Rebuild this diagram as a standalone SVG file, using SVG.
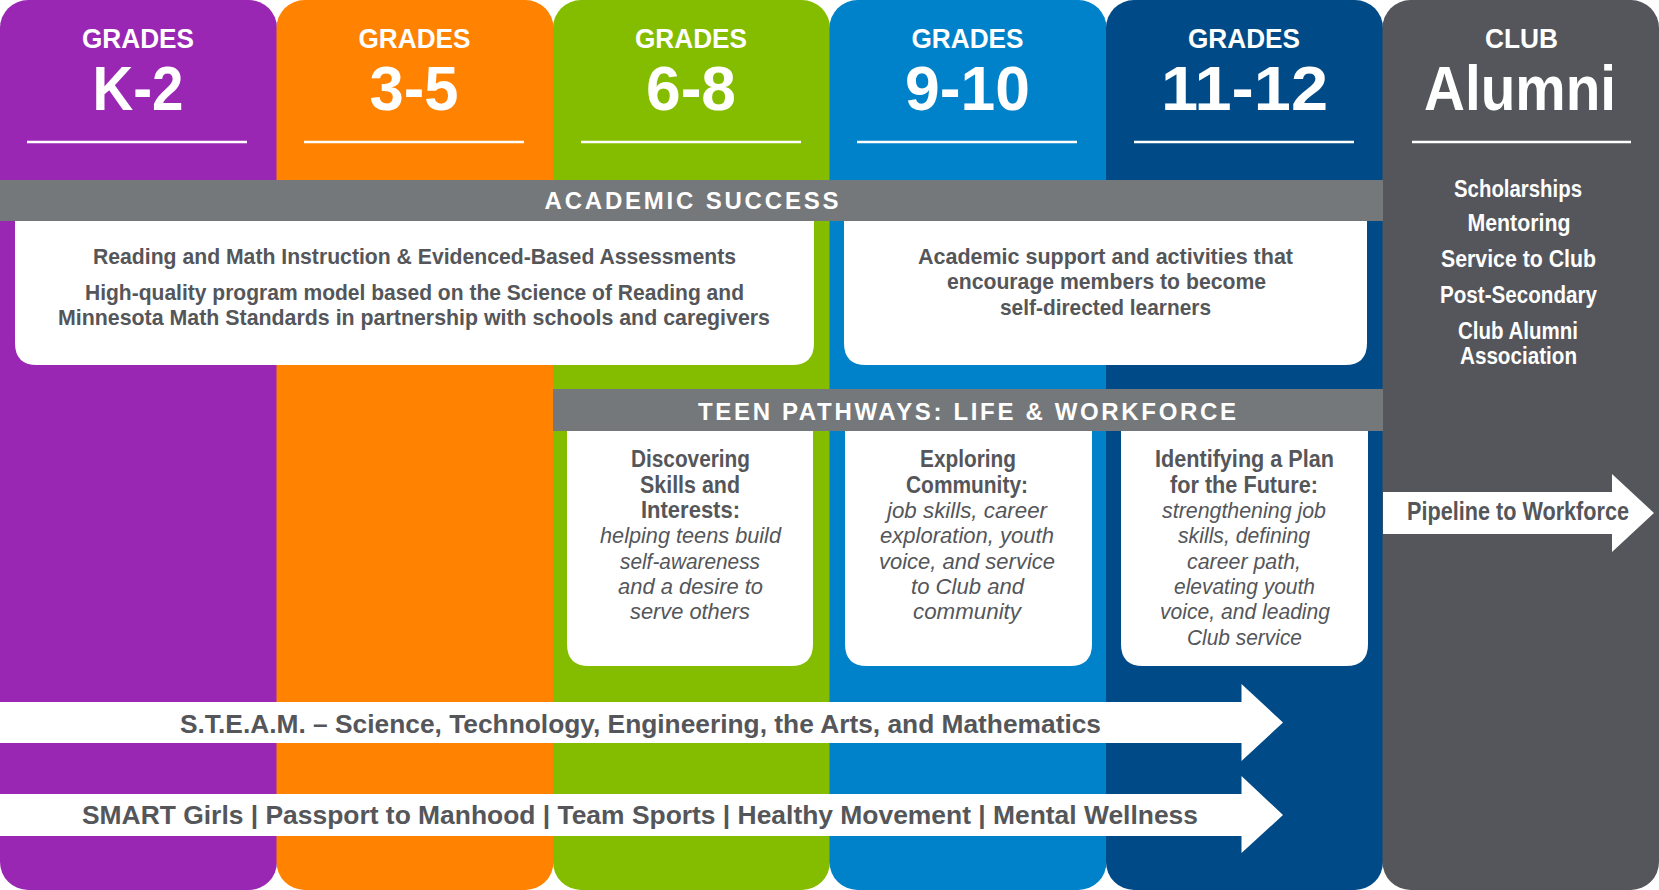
<svg xmlns="http://www.w3.org/2000/svg" width="1659" height="890" viewBox="0 0 1659 890">
<style>
text{font-family:"Liberation Sans Narrow","Liberation Sans",Arial,sans-serif;}
.hd{fill:#fff;font-weight:bold;font-size:27px;text-anchor:middle;}
.big{fill:#fff;font-weight:bold;font-size:63px;text-anchor:middle;}
.band{fill:#75787B;}
.bt{fill:#fff;font-weight:bold;font-size:24px;text-anchor:middle;}
.box{fill:#fff;}
.b{fill:#54565A;font-weight:bold;font-size:22px;text-anchor:middle;}
.bh{fill:#54565A;font-weight:bold;font-size:23px;text-anchor:middle;}
.it{fill:#54565A;font-style:italic;font-size:22px;text-anchor:middle;}
.al{fill:#fff;font-weight:bold;font-size:23px;text-anchor:middle;}
.rule{stroke:#fff;stroke-width:2.5;}
.arrow{fill:#fff;}
.at{fill:#54565A;font-weight:bold;font-size:25px;text-anchor:middle;}
</style>
<rect width="1659" height="890" fill="#fff"/>

<g id="col-k2">
<rect x="0" y="0" width="277" height="890" rx="28" fill="#9A27B4"/>
<text class="hd" x="138" y="48" textLength="112" lengthAdjust="spacingAndGlyphs">GRADES</text>
<text class="big" x="138" y="110" textLength="91" lengthAdjust="spacingAndGlyphs">K-2</text>
<line class="rule" x1="27" y1="142" x2="247" y2="142"/>
</g>
<g id="col-35">
<rect x="276.5" y="0" width="277" height="890" rx="28" fill="#FF8200"/>
<text class="hd" x="414.5" y="48" textLength="112" lengthAdjust="spacingAndGlyphs">GRADES</text>
<text class="big" x="414" y="110" textLength="89" lengthAdjust="spacingAndGlyphs">3-5</text>
<line class="rule" x1="304" y1="142" x2="524" y2="142"/>
</g>
<g id="col-68">
<rect x="553" y="0" width="277" height="890" rx="28" fill="#84BD00"/>
<text class="hd" x="691" y="48" textLength="112" lengthAdjust="spacingAndGlyphs">GRADES</text>
<text class="big" x="691" y="110" textLength="90" lengthAdjust="spacingAndGlyphs">6-8</text>
<line class="rule" x1="581" y1="142" x2="801" y2="142"/>
</g>
<g id="col-910">
<rect x="829.5" y="0" width="277" height="890" rx="28" fill="#0082CA"/>
<text class="hd" x="967.5" y="48" textLength="112" lengthAdjust="spacingAndGlyphs">GRADES</text>
<text class="big" x="967.5" y="110" textLength="125" lengthAdjust="spacingAndGlyphs">9-10</text>
<line class="rule" x1="857" y1="142" x2="1077" y2="142"/>
</g>
<g id="col-1112">
<rect x="1106" y="0" width="277" height="890" rx="28" fill="#004B87"/>
<text class="hd" x="1244" y="48" textLength="112" lengthAdjust="spacingAndGlyphs">GRADES</text>
<text class="big" x="1244.5" y="110" textLength="167" lengthAdjust="spacingAndGlyphs">11-12</text>
<line class="rule" x1="1134" y1="142" x2="1354" y2="142"/>
</g>
<g id="col-alumni">
<rect x="1382.5" y="0" width="276.5" height="890" rx="28" fill="#54565B"/>
<text class="hd" x="1521.5" y="48" textLength="73" lengthAdjust="spacingAndGlyphs">CLUB</text>
<text class="big" x="1520" y="110" textLength="192" lengthAdjust="spacingAndGlyphs">Alumni</text>
<line class="rule" x1="1412" y1="142" x2="1631" y2="142"/>
<text class="al" x="1518" y="197" textLength="128" lengthAdjust="spacingAndGlyphs">Scholarships</text>
<text class="al" x="1519" y="231" textLength="103" lengthAdjust="spacingAndGlyphs">Mentoring</text>
<text class="al" x="1518.5" y="267" textLength="155" lengthAdjust="spacingAndGlyphs">Service to Club</text>
<text class="al" x="1518.5" y="303" textLength="157" lengthAdjust="spacingAndGlyphs">Post-Secondary</text>
<text class="al" x="1518" y="339" textLength="120" lengthAdjust="spacingAndGlyphs">Club Alumni</text>
<text class="al" x="1518.5" y="364" textLength="117" lengthAdjust="spacingAndGlyphs">Association</text>
</g>

<g id="academic-success">
<rect class="band" x="0" y="180" width="1383" height="41"/>
<text class="bt" x="691.5" y="209" textLength="294" lengthAdjust="spacing">ACADEMIC SUCCESS</text>
</g>
<g id="academic-k8">
<path class="box" d="M15,221 H814 V343 Q814,365 792,365 H37 Q15,365 15,343 Z"/>
<text class="b" x="414.5" y="264" textLength="643" lengthAdjust="spacingAndGlyphs">Reading and Math Instruction &amp; Evidenced-Based Assessments</text>
<text class="b" x="414.5" y="300" textLength="659" lengthAdjust="spacingAndGlyphs">High-quality program model based on the Science of Reading and</text>
<text class="b" x="414" y="325" textLength="712" lengthAdjust="spacingAndGlyphs">Minnesota Math Standards in partnership with schools and caregivers</text>
</g>
<g id="academic-912">
<path class="box" d="M844,221 H1367 V343 Q1367,365 1345,365 H866 Q844,365 844,343 Z"/>
<text class="b" x="1105.5" y="264" textLength="375" lengthAdjust="spacingAndGlyphs">Academic support and activities that</text>
<text class="b" x="1106.5" y="289" textLength="319" lengthAdjust="spacingAndGlyphs">encourage members to become</text>
<text class="b" x="1105.5" y="315" textLength="211" lengthAdjust="spacingAndGlyphs">self-directed learners</text>
</g>

<g id="teen-pathways">
<rect class="band" x="553" y="389" width="830" height="42"/>
<text class="bt" x="967" y="420" font-size="25" textLength="538" lengthAdjust="spacing">TEEN PATHWAYS: LIFE &amp; WORKFORCE</text>
</g>
<g id="teen-discovering">
<path class="box" d="M567,431 H813 V644 Q813,666 791,666 H589 Q567,666 567,644 Z"/>
<text class="bh" x="690.5" y="467" textLength="119" lengthAdjust="spacingAndGlyphs">Discovering</text>
<text class="bh" x="690" y="493" textLength="100" lengthAdjust="spacingAndGlyphs">Skills and</text>
<text class="bh" x="690.5" y="518" textLength="99" lengthAdjust="spacingAndGlyphs">Interests:</text>
<text class="it" x="690.5" y="543" textLength="181" lengthAdjust="spacingAndGlyphs">helping teens build</text>
<text class="it" x="690" y="569" textLength="140" lengthAdjust="spacingAndGlyphs">self-awareness</text>
<text class="it" x="690.5" y="594" textLength="145" lengthAdjust="spacingAndGlyphs">and a desire to</text>
<text class="it" x="690" y="619" textLength="120" lengthAdjust="spacingAndGlyphs">serve others</text>
</g>
<g id="teen-exploring">
<path class="box" d="M845,431 H1092 V644 Q1092,666 1070,666 H867 Q845,666 845,644 Z"/>
<text class="bh" x="968" y="467" textLength="96" lengthAdjust="spacingAndGlyphs">Exploring</text>
<text class="bh" x="967" y="493" textLength="122" lengthAdjust="spacingAndGlyphs">Community:</text>
<text class="it" x="967" y="518" textLength="160" lengthAdjust="spacingAndGlyphs">job skills, career</text>
<text class="it" x="967" y="543" textLength="174" lengthAdjust="spacingAndGlyphs">exploration, youth</text>
<text class="it" x="967" y="569" textLength="176" lengthAdjust="spacingAndGlyphs">voice, and service</text>
<text class="it" x="967.5" y="594" textLength="113" lengthAdjust="spacingAndGlyphs">to Club and</text>
<text class="it" x="967" y="619" textLength="108" lengthAdjust="spacingAndGlyphs">community</text>
</g>
<g id="teen-identifying">
<path class="box" d="M1121,431 H1368 V644 Q1368,666 1346,666 H1143 Q1121,666 1121,644 Z"/>
<text class="bh" x="1244.5" y="467" textLength="179" lengthAdjust="spacingAndGlyphs">Identifying a Plan</text>
<text class="bh" x="1244" y="493" textLength="148" lengthAdjust="spacingAndGlyphs">for the Future:</text>
<text class="it" x="1244" y="518" textLength="164" lengthAdjust="spacingAndGlyphs">strengthening job</text>
<text class="it" x="1244" y="543" textLength="132" lengthAdjust="spacingAndGlyphs">skills, defining</text>
<text class="it" x="1244" y="569" textLength="114" lengthAdjust="spacingAndGlyphs">career path,</text>
<text class="it" x="1244.5" y="594" textLength="141" lengthAdjust="spacingAndGlyphs">elevating youth</text>
<text class="it" x="1245" y="619" textLength="170" lengthAdjust="spacingAndGlyphs">voice, and leading</text>
<text class="it" x="1244.5" y="645" textLength="115" lengthAdjust="spacingAndGlyphs">Club service</text>
</g>

<g id="connectors">
<g id="pipeline-arrow">
<polygon class="arrow" points="1383,492 1612,492 1612,474 1654,513 1612,552 1612,534 1383,534"/>
<text class="at" x="1518" y="520" font-size="23" textLength="222" lengthAdjust="spacingAndGlyphs">Pipeline to Workforce</text>
</g>
<g id="steam-arrow">
<polygon class="arrow" points="0,702 1241.5,702 1241.5,684 1283,722.5 1241.5,761 1241.5,743 0,743"/>
<text class="at" x="640.5" y="733" textLength="921" lengthAdjust="spacingAndGlyphs">S.T.E.A.M. – Science, Technology, Engineering, the Arts, and Mathematics</text>
</g>
<g id="programs-arrow">
<polygon class="arrow" points="0,794 1241.5,794 1241.5,776 1283,815 1241.5,853 1241.5,836 0,836"/>
<text class="at" x="640" y="824" textLength="1116" lengthAdjust="spacingAndGlyphs">SMART Girls | Passport to Manhood | Team Sports | Healthy Movement | Mental Wellness</text>
</g>
</g>
</svg>
